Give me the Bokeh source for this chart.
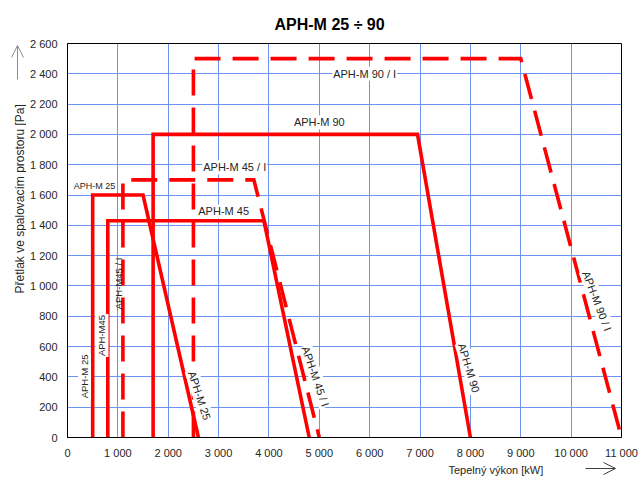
from bokeh.plotting import figure
from bokeh.layouts import column, row
from bokeh.models import Label, Arrow, OpenHead, FixedTicker, Range1d, Title
from bokeh.embed import file_html
from bokeh.resources import INLINE

# ---------------- data ----------------
x_ticks = [0, 1000, 2000, 3000, 4000, 5000, 6000, 7000, 8000, 9000, 10000, 11000]
x_tick_labels = ["0", "1 000", "2 000", "3 000", "4 000", "5 000", "6 000",
                 "7 000", "8 000", "9 000", "10 000", "11 000"]
y_ticks = [0, 200, 400, 600, 800, 1000, 1200, 1400, 1600, 1800, 2000, 2200, 2400, 2600]
y_tick_labels = ["0", "200", "400", "600", "800", "1 000", "1 200", "1 400",
                 "1 600", "1 800", "2 000", "2 200", "2 400", "2 600"]

series_names = ["APH-M 25", "APH-M 45", "APH-M 45 / I", "APH-M 90", "APH-M 90 / I"]
m25_x = [500, 500, 1500, 2600]
m25_y = [0, 1600, 1600, 0]
m45_x = [800, 800, 3900, 4800]
m45_y = [0, 1430, 1430, 0]
m45i_x = [1100, 1100, 3700, 5000]
m45i_y = [0, 1700, 1700, 0]
m90_x = [1700, 1700, 6950, 8000]
m90_y = [0, 2000, 2000, 0]
m90i_x = [2500, 2500, 9000, 11000]
m90i_y = [0, 2500, 2500, 0]

title_text = "APH-M 25 \u00f7 90"
x_title = "Tepeln\u00fd v\u00fdkon [kW]"
y_title = "P\u0159etlak ve spalovac\u00edm  prostoru  [Pa]"

# ---------------- styles ----------------
FONT = "Liberation Sans"
TXT = "#262626"
RED = "#ff0000"
GRID = "#6a93f2"
LEFT_W = 26
TOP_H = 461
TOTAL_W = 639
TOTAL_H = 477
FRAME_TOP = 43
FRAME_BOTTOM = 437

# ---------------- main figure ----------------
p = figure(width=TOTAL_W - LEFT_W, height=TOP_H, output_backend="svg", toolbar_location=None,
           x_range=Range1d(0, 11000), y_range=Range1d(0, 2600),
           min_border_left=67 - LEFT_W, min_border_right=18, min_border_top=FRAME_TOP,
           min_border_bottom=TOP_H - FRAME_BOTTOM)
p.background_fill_color = "white"
p.border_fill_color = "white"
p.outline_line_color = "black"
p.outline_line_width = 1

p.add_layout(Title(text=title_text, align="left", offset=207, standoff=22,
                   text_font=FONT, text_font_size="16px", text_font_style="bold",
                   text_color="black"), "above")

for ax in (p.xaxis[0], p.yaxis[0]):
    ax.major_tick_in = 0
    ax.major_tick_out = 0
    ax.minor_tick_in = 0
    ax.minor_tick_out = 0
    ax.axis_line_color = "black"
    ax.major_label_text_font = FONT
    ax.major_label_text_font_size = "11px"
    ax.major_label_text_color = TXT

p.xaxis.ticker = FixedTicker(ticks=x_ticks)
p.xaxis.major_label_overrides = {t: l for t, l in zip(x_ticks, x_tick_labels)}
p.yaxis.ticker = FixedTicker(ticks=y_ticks)
p.yaxis.major_label_overrides = {t: l for t, l in zip(y_ticks, y_tick_labels)}
p.xaxis.major_label_standoff = 9
p.yaxis.major_label_standoff = 10

p.xgrid.ticker = FixedTicker(ticks=x_ticks)
p.ygrid.ticker = FixedTicker(ticks=y_ticks)
p.grid.grid_line_color = GRID
p.grid.grid_line_width = 1

# ---------------- lines ----------------
xs_all = [m25_x, m45_x, m45i_x, m90_x, m90i_x]
ys_all = [m25_y, m45_y, m45i_y, m90_y, m90i_y]
for name, xs, ys in zip(series_names, xs_all, ys_all):
    dashed = name.endswith("/ I")
    p.line(xs, ys, line_color=RED, line_width=3.6, line_join="miter",
           line_cap="butt", line_dash="26 12" if dashed else "solid")

# ---------------- labels on curves ----------------
def lab(text, x, y, size="11px", angle=0, bg=True):
    p.add_layout(Label(x=x, y=y, text=text, angle=angle, angle_units="deg",
                       text_font=FONT, text_font_size=size, text_color=TXT,
                       text_align="center", text_baseline="middle",
                       background_fill_color="white" if bg else None,
                       padding=1))

lab(series_names[4], 5900, 2400)
lab(series_names[3], 5000, 2080)
lab(series_names[2], 3320, 1784)
lab(series_names[1], 3100, 1492)
lab(series_names[0], 536, 1657, size="9px")
lab(series_names[0], 338, 403, size="9.5px", angle=90)
lab("APH-M45", 685, 673, size="9.5px", angle=90)
lab("APH-M45 / I", 1013, 1016, size="9.5px", angle=90, bg=False)
lab(series_names[0], 2621, 277, angle=-72)
lab(series_names[2], 4925, 403, angle=-71)
lab(series_names[3], 7973, 459, angle=-73)
lab(series_names[4], 10514, 901, angle=-69)

# ---------------- strips (page-pixel coordinates inside their frames) ----------------
def strip(w, h, y0, y1):
    s = figure(width=w, height=h, output_backend="svg", toolbar_location=None,
               x_range=Range1d(0, w), y_range=Range1d(y1, y0),
               x_axis_type=None, y_axis_type=None, min_border=0)
    s.outline_line_color = None
    s.background_fill_color = "white"
    s.border_fill_color = "white"
    return s

# left strip: its frame gets aligned with the main frame (page y 43..437)
left = strip(LEFT_W, TOP_H, FRAME_TOP, FRAME_BOTTOM)
left.add_layout(Label(x=19, y=195, text=y_title, angle=90, angle_units="deg",
                      text_font=FONT, text_font_size="12px", text_color=TXT,
                      text_align="center", text_baseline="middle"))
left.add_layout(Arrow(x_start=17, y_start=79, x_end=17, y_end=45,
                      line_color="#8c8c8c", line_width=1,
                      end=OpenHead(size=12, line_color="#8c8c8c", line_width=1)))

# bottom strip: page y 461..477
bottom = strip(TOTAL_W, TOTAL_H - TOP_H, TOP_H, TOTAL_H)
bottom.add_layout(Label(x=448, y=469, text=x_title,
                        text_font=FONT, text_font_size="11px", text_color=TXT,
                        text_align="left", text_baseline="alphabetic"))
bottom.add_layout(Arrow(x_start=585, y_start=468, x_end=615, y_end=468,
                        line_color="#404040", line_width=1,
                        end=OpenHead(size=12, line_color="#404040", line_width=1)))

layout = column(row(left, p, spacing=0), bottom, spacing=0)

open("out.html", "w").write(file_html(layout, INLINE))
